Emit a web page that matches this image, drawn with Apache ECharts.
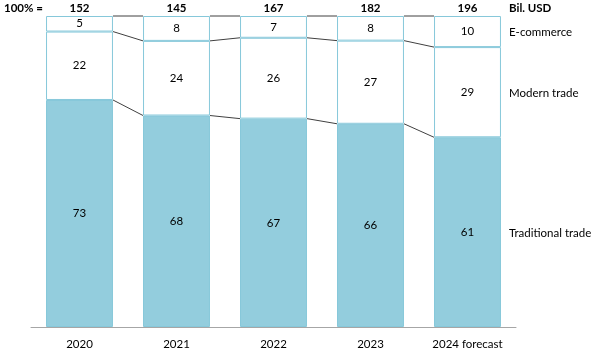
<!DOCTYPE html>
<html>
<head>
<meta charset="utf-8">
<script src="https://cdn.jsdelivr.net/npm/echarts@6/dist/echarts.min.js"></script>
<style>
  html, body { margin: 0; padding: 0; background: #fff; }
  #chart { width: 592px; height: 354px; }
</style>
</head>
<body>
<div id="chart"></div>
<script>
const categories = ["2020", "2021", "2022", "2023", "2024 forecast"];
const totals = [152, 145, 167, 182, 196];
const traditional = [73, 68, 67, 66, 61];
const modern = [22, 24, 26, 27, 29];
const ecommerce = [5, 8, 7, 8, 10];
const segmentNames = ["Traditional trade", "Modern trade", "E-commerce"];

const FONT = "Lato, sans-serif";
const FS = 11.5;
const BAR_RATIO = 0.69;

// shares per column (2023 adds up to 101, so scale each column to 100%)
const sums = categories.map((_, i) => traditional[i] + modern[i] + ecommerce[i]);
const share = (arr) => arr.map((v, i) => (v / sums[i]) * 100);
const tradShare = share(traditional);
const modShare = share(modern);
const ecoShare = share(ecommerce);

// boundaries between segments, used for the connector lines
const connectors = [];
for (let i = 0; i < categories.length - 1; i++) {
  connectors.push([
    i,
    tradShare[i], tradShare[i + 1],
    tradShare[i] + modShare[i], tradShare[i + 1] + modShare[i + 1],
    100, 100
  ]);
}

// side labels next to the last column
const last = categories.length - 1;
const sideLabels = [
  [last, tradShare[last] / 2, 0],
  [last, tradShare[last] + modShare[last] / 2, 1],
  [last, tradShare[last] + modShare[last] + ecoShare[last] / 2, 2]
];

const chart = echarts.init(document.getElementById("chart"));

const barStyle = (fill) => ({
  color: fill,
  borderColor: "#86C8DA",
  borderWidth: 1
});

const insideLabel = (raw) => ({
  show: true,
  position: "inside",
  color: "#000",
  fontSize: FS,
  fontFamily: FONT,
  formatter: (p) => raw[p.dataIndex]
});

chart.setOption({
  animation: false,
  grid: { left: 31, right: 76, top: 16, bottom: 27 },
  xAxis: {
    type: "category",
    data: categories,
    axisTick: { show: false },
    axisLine: { lineStyle: { color: "#A6A6A6", width: 1 } },
    axisLabel: { color: "#000", fontSize: FS, fontFamily: FONT, margin: 11 }
  },
  yAxis: {
    type: "value",
    min: 0,
    max: 100,
    show: false,
    splitLine: { show: false }
  },
  graphic: [
    {
      type: "text", left: 4, top: 2,
      style: { text: "100% =", fontSize: FS, fontWeight: "bold", fontFamily: FONT, fill: "#000" }
    },
    {
      type: "text", left: 509, top: 2,
      style: { text: "Bil. USD", fontSize: FS, fontWeight: "bold", fontFamily: FONT, fill: "#000" }
    }
  ],
  series: [
    {
      name: segmentNames[0],
      type: "bar",
      stack: "total",
      barWidth: BAR_RATIO * 100 + "%",
      data: tradShare,
      itemStyle: barStyle("#93CDDD"),
      label: insideLabel(traditional)
    },
    {
      name: segmentNames[1],
      type: "bar",
      stack: "total",
      data: modShare,
      itemStyle: barStyle("#FFFFFF"),
      label: insideLabel(modern)
    },
    {
      name: segmentNames[2],
      type: "bar",
      stack: "total",
      data: ecoShare,
      itemStyle: barStyle("#FFFFFF"),
      label: insideLabel(ecommerce),
      z: 3
    },
    {
      // totals above each column
      type: "custom",
      data: categories.map((_, i) => [i, 100]),
      renderItem: (params, api) => {
        const p = api.coord([api.value(0), api.value(1)]);
        return {
          type: "text",
          style: {
            text: String(totals[params.dataIndex]),
            x: p[0], y: p[1] - 2,
            align: "center", verticalAlign: "bottom",
            fontSize: FS, fontWeight: "bold", fontFamily: FONT, fill: "#000"
          }
        };
      },
      z: 5
    },
    {
      // connector lines between the columns
      type: "custom",
      data: connectors,
      renderItem: (params, api) => {
        const i = api.value(0);
        const half = api.size([1, 0])[0] * BAR_RATIO / 2;
        const children = [];
        for (let k = 0; k < 3; k++) {
          const a = api.coord([i, api.value(1 + k * 2)]);
          const b = api.coord([i + 1, api.value(2 + k * 2)]);
          children.push({
            type: "line",
            shape: { x1: a[0] + half, y1: a[1], x2: b[0] - half, y2: b[1] },
            style: { stroke: "#404040", lineWidth: 1 }
          });
        }
        return { type: "group", children: children };
      },
      z: 1
    },
    {
      // segment names right of the last column
      type: "custom",
      data: sideLabels,
      renderItem: (params, api) => {
        const half = api.size([1, 0])[0] * BAR_RATIO / 2;
        const p = api.coord([api.value(0), api.value(1)]);
        return {
          type: "text",
          style: {
            text: segmentNames[api.value(2)],
            x: p[0] + half + 8, y: p[1] + 1,
            align: "left", verticalAlign: "middle",
            fontSize: FS, fontFamily: FONT, fill: "#000"
          }
        };
      },
      z: 5
    }
  ]
});
</script>
</body>
</html>
